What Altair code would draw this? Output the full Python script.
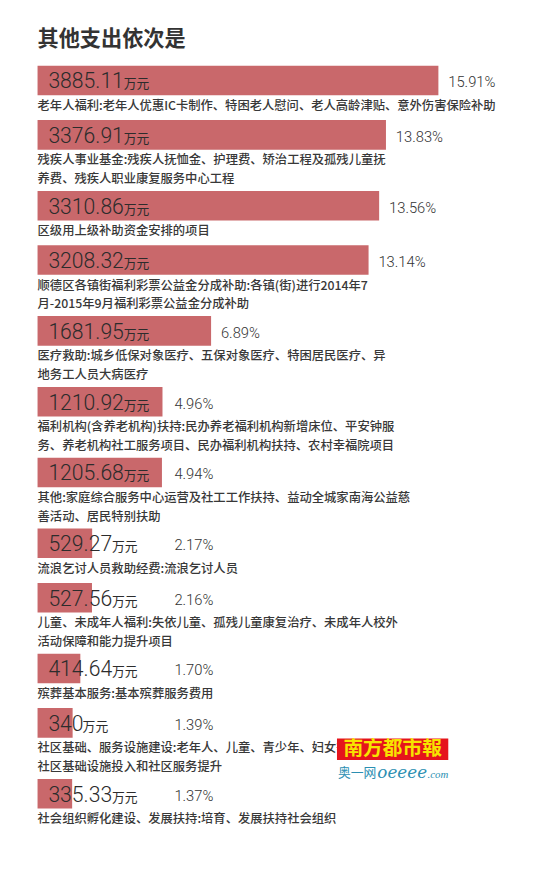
import altair as alt
import pandas as pd

title_text = "其他支出依次是"
unit_text = "万元"

amounts = [3885.11, 3376.91, 3310.86, 3208.32, 1681.95, 1210.92, 1205.68,
           529.27, 527.56, 414.64, 340, 335.33]
amount_labels = ["3885.11", "3376.91", "3310.86", "3208.32", "1681.95", "1210.92",
                 "1205.68", "529.27", "527.56", "414.64", "340", "335.33"]
shares = ["15.91%", "13.83%", "13.56%", "13.14%", "6.89%", "4.96%", "4.94%",
          "2.17%", "2.16%", "1.70%", "1.39%", "1.37%"]
descriptions = [
    ["老年人福利:老年人优惠IC卡制作、特困老人慰问、老人高龄津贴、意外伤害保险补助"],
    ["残疾人事业基金:残疾人抚恤金、护理费、矫治工程及孤残儿童抚",
     "养费、残疾人职业康复服务中心工程"],
    ["区级用上级补助资金安排的项目"],
    ["顺德区各镇街福利彩票公益金分成补助:各镇(街)进行2014年7",
     "月-2015年9月福利彩票公益金分成补助"],
    ["医疗救助:城乡低保对象医疗、五保对象医疗、特困居民医疗、异",
     "地务工人员大病医疗"],
    ["福利机构(含养老机构)扶持:民办养老福利机构新增床位、平安钟服",
     "务、养老机构社工服务项目、民办福利机构扶持、农村幸福院项目"],
    ["其他:家庭综合服务中心运营及社工工作扶持、益动全城家南海公益慈",
     "善活动、居民特别扶助"],
    ["流浪乞讨人员救助经费:流浪乞讨人员"],
    ["儿童、未成年人福利:失依儿童、孤残儿童康复治疗、未成年人校外",
     "活动保障和能力提升项目"],
    ["殡葬基本服务:基本殡葬服务费用"],
    ["社区基础、服务设施建设:老年人、儿童、青少年、妇女等",
     "社区基础设施投入和社区服务提升"],
    ["社会组织孵化建设、发展扶持:培育、发展扶持社会组织"],
]

# ---- layout (derived from the number of description lines) ----
BAR_H = 30
NUM_FS = 21.5
X_DOMAIN = [0, 4000]
PCT_MIN = 1231  # percentages never sit closer to the left than this amount position


def num_width(s, fs=NUM_FS):
    return sum(0.5615 * fs if c.isdigit() else 0.263 * fs for c in s)


rows, desc_rows = [], []
y = 0.0
for amt, lab, sh, lines in zip(amounts, amount_labels, shares, descriptions):
    rows.append({
        "amount": amt, "label": lab, "share": sh,
        "top": y, "bottom": y + BAR_H, "base": y + 23, "pctbase": y + 22,
        "unit_x": 11 + num_width(lab) - 1.5,
        "pct_pos": max(amt, PCT_MIN),
    })
    for j, t in enumerate(lines):
        desc_rows.append({"text": t, "ypos": y + 41 + 19 * j})
    y += 38.5 + 16.7 * len(lines)

bars_df = pd.DataFrame(rows)
desc_df = pd.DataFrame(desc_rows)

xscale = alt.Scale(domain=X_DOMAIN)
base = alt.Chart(bars_df)

bars = base.mark_rect(color="#c9686b").transform_calculate(zero="0").encode(
    x=alt.X("amount:Q", scale=xscale, axis=None),
    x2="zero:Q",
    y=alt.Y("top:Q", scale=None),
    y2="bottom:Q",
)

nums = base.mark_text(align="left", baseline="alphabetic", font="'Roboto Light', Roboto",
                      fontWeight=300, fontSize=NUM_FS, color="#2c2c2c").encode(
    x=alt.value(11),
    y=alt.Y("base:Q", scale=None),
    text="label:N",
)

units = base.mark_text(align="left", baseline="alphabetic", font="Noto Sans CJK SC",
                       fontSize=13, color="#2c2c2c").encode(
    x=alt.X("unit_x:Q", scale=None),
    y=alt.Y("base:Q", scale=None),
    text=alt.value(unit_text),
)

pcts = base.mark_text(align="left", baseline="alphabetic", dx=10,
                      font="'Roboto Light', Roboto",
                      fontWeight=300, fontSize=15, color="#333333").encode(
    x=alt.X("pct_pos:Q", scale=xscale, axis=None),
    y=alt.Y("pctbase:Q", scale=None),
    text="share:N",
)

descs = alt.Chart(desc_df).mark_text(align="left", baseline="middle",
                                     font="Noto Sans CJK SC", fontSize=12.5,
                                     fontWeight=500, color="#383838").encode(
    x=alt.value(0),
    y=alt.Y("ypos:Q", scale=None),
    text="text:N",
)

# ---- newspaper watermark ----
wm_df = pd.DataFrame({"brand": ["南方都市報"], "site": ["奥一网"], "dom": ["oeeee"], "tld": [".com"]})
wm = alt.Chart(wm_df)
wm_box = wm.mark_rect(color="#e5141c").encode(
    x=alt.value(304), x2=alt.value(417), y=alt.value(683), y2=alt.value(705))
wm_brand = wm.mark_text(align="center", baseline="middle", font="Noto Sans CJK SC",
                        fontWeight="bold", fontSize=20, color="#f7e400").encode(
    x=alt.value(360.5), y=alt.value(694), text="brand:N")
wm_site = wm.mark_text(align="left", baseline="middle", font="Noto Sans CJK SC",
                       fontSize=13, color="#2b8fb2").encode(
    x=alt.value(305), y=alt.value(718), text="site:N")
wm_dom = wm.mark_text(align="left", baseline="alphabetic", font="DejaVu Serif",
                      fontStyle="italic", fontSize=17, color="#2b8fb2").encode(
    x=alt.value(345), y=alt.value(723), text="dom:N")
wm_tld = wm.mark_text(align="left", baseline="alphabetic", font="Liberation Serif",
                      fontStyle="italic", fontSize=11, color="#2b8fb2").encode(
    x=alt.value(396), y=alt.value(723), text="tld:N")

chart = alt.layer(
    bars, nums, units, pcts, descs, wm_box, wm_brand, wm_site, wm_dom, wm_tld
).properties(
    width=419,
    height=805,
    padding={"left": 30, "top": 52, "right": 83, "bottom": 8},
    autosize="none",
    title=alt.Title(title_text, anchor="start", frame="group", font="Noto Sans CJK SC",
                    fontSize=21.5, fontWeight="bold", color="#333333", offset=16),
    background="white",
).configure_view(stroke=None)

chart.save("out.html", embed_options={"renderer": "svg", "actions": False})
